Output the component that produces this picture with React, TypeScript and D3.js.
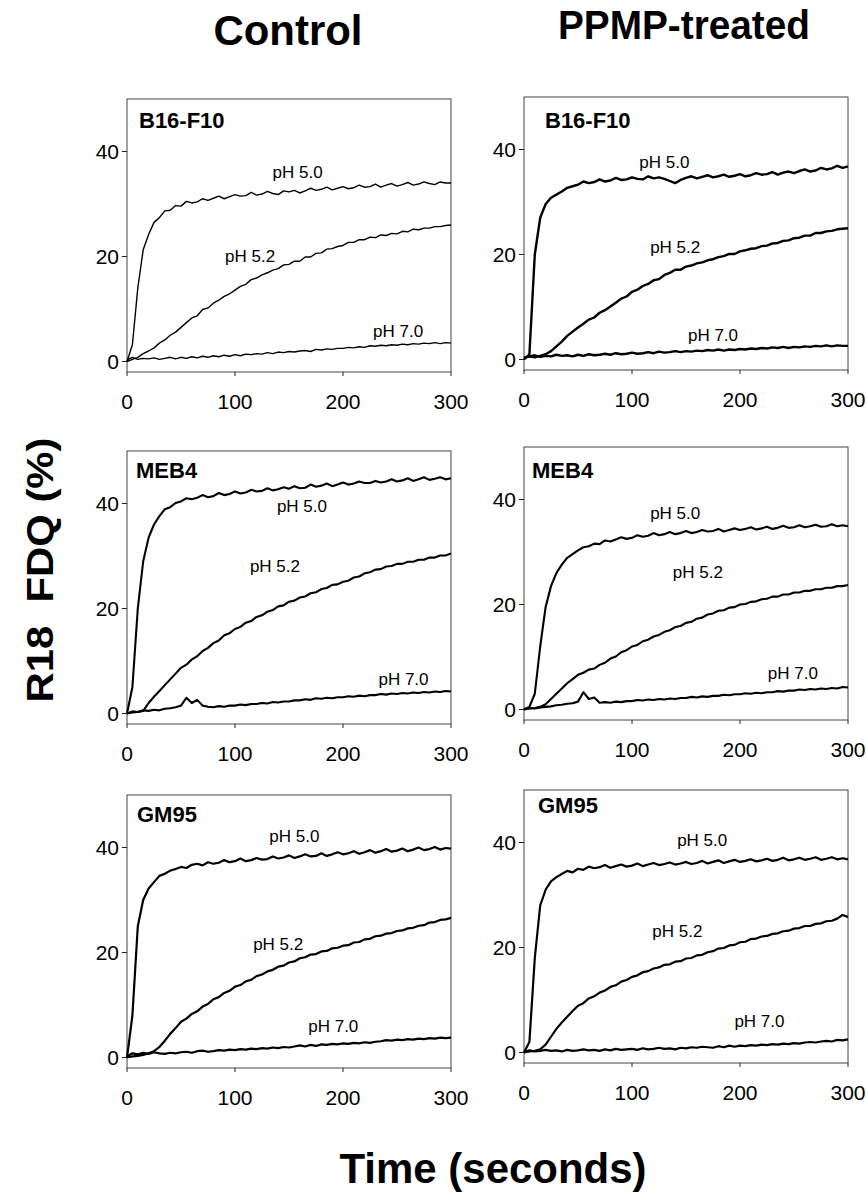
import React from 'react';
import { scaleLinear, line } from 'd3';

// sample times (seconds)
const times = [
  0, 5, 10, 15, 20, 25, 30, 35, 40, 45,
  50, 55, 60, 65, 70, 75, 80, 85, 90, 95,
  100, 105, 110, 115, 120, 125, 130, 135, 140, 145,
  150, 155, 160, 165, 170, 175, 180, 185, 190, 195,
  200, 205, 210, 215, 220, 225, 230, 235, 240, 245,
  250, 255, 260, 265, 270, 275, 280, 285, 290, 295,
  300,
];

const phLabels = ['pH 5.0', 'pH 5.2', 'pH 7.0'];
const cellLines = ['B16-F10', 'MEB4', 'GM95'];
const yTicks = [0, 20, 40];
const xTicks = [0, 100, 200, 300];

// Control, B16-F10
const ctrlB16_50 = [
  0, 3.2, 14.0, 21.3, 24.2, 26.5, 27.4, 28.7, 28.8, 29.7,
  29.6, 30.5, 30.2, 30.4, 31.0, 30.7, 31.1, 31.5, 31.0, 31.4,
  31.8, 31.5, 31.6, 32.2, 31.7, 31.9, 32.4, 32.0, 31.8, 32.5,
  32.3, 32.6, 32.1, 32.5, 33.0, 32.6, 32.8, 33.2, 32.7, 33.0,
  33.3, 32.9, 33.1, 33.6, 33.2, 33.3, 33.8, 33.2, 33.6, 33.9,
  33.4, 33.7, 34.1, 33.6, 33.8, 34.2, 33.9, 33.7, 34.2, 34.0,
  34.0,
];
const ctrlB16_52 = [
  0, 0.4, 0.8, 1.5, 2.0, 2.6, 3.5, 4.1, 5.0, 5.6,
  6.5, 7.4, 8.3, 8.7, 9.9, 10.2, 11.1, 11.7, 12.4, 12.9,
  13.6, 14.3, 14.7, 15.6, 15.9, 16.5, 16.9, 17.4, 17.7, 18.4,
  18.5, 19.1, 19.1, 19.9, 19.9, 20.6, 20.7, 21.4, 21.5, 21.9,
  22.1, 22.7, 22.7, 23.2, 23.2, 23.7, 23.6, 24.1, 24.0, 24.4,
  24.3, 24.8, 24.7, 25.2, 25.1, 25.4, 25.4, 25.7, 25.7, 25.9,
  26.0,
];
const ctrlB16_70 = [
  0.3, 0.8, 0.4, 0.6, 0.5, 0.7, 0.4, 0.6, 0.8, 0.5,
  0.8, 0.6, 0.9, 0.7, 1.0, 0.8, 1.1, 0.9, 1.2, 1.0,
  1.3, 1.1, 1.4, 1.3, 1.5, 1.4, 1.7, 1.5, 1.8, 1.7,
  1.9, 1.8, 2.0, 2.1, 1.9, 2.3, 2.2, 2.4, 2.3, 2.5,
  2.5, 2.7, 2.6, 2.8, 2.7, 3.0, 2.9, 3.1, 3.0, 3.2,
  3.1, 3.3, 3.2, 3.4, 3.3, 3.5, 3.4, 3.6, 3.4, 3.6,
  3.5,
];

// PPMP-treated, B16-F10
const ppmpB16_50 = [
  0, 1.0, 20.0, 27.0, 29.6, 30.8, 31.4, 32.0, 32.7, 33.0,
  33.3, 33.9, 33.6, 33.8, 34.3, 33.9, 34.1, 34.6, 34.2, 34.3,
  34.7, 34.4, 34.3, 34.9, 34.5, 34.7, 34.4, 34.0, 33.6, 34.2,
  34.6, 34.9, 34.5, 34.8, 35.1, 34.7, 34.9, 35.2, 34.8, 35.0,
  35.3, 34.9, 35.1, 35.5, 35.2, 35.3, 35.7, 35.2, 35.6, 35.8,
  35.5, 35.9, 36.2, 35.8, 36.0, 36.5, 36.2, 36.4, 36.9, 36.5,
  36.8,
];
const ppmpB16_52 = [
  0.3, 0.6, 0.4, 0.7, 1.0, 1.6, 2.5, 3.4, 4.5, 5.3,
  6.1, 6.8, 7.6, 8.0, 8.9, 9.4, 10.1, 10.8, 11.6, 12.0,
  12.9, 13.3, 14.0, 14.4, 15.1, 15.3, 16.1, 16.5, 17.1, 17.1,
  17.7, 17.9, 18.3, 18.5, 18.9, 19.1, 19.5, 19.7, 20.1, 20.1,
  20.6, 20.8, 21.1, 21.2, 21.6, 21.7, 22.1, 22.2, 22.6, 22.7,
  23.1, 23.2, 23.6, 23.6, 24.1, 24.1, 24.4, 24.5, 24.8, 24.9,
  25.0,
];
const ppmpB16_70 = [
  0.3, 0.6, 0.8, 0.5, 0.7, 0.6, 0.9, 0.7, 0.8, 0.6,
  0.9, 0.7, 1.0, 0.8, 0.9, 1.1, 0.9, 1.2, 1.0, 1.1,
  1.3, 1.1, 1.2, 1.4, 1.2, 1.5, 1.3, 1.4, 1.6, 1.4,
  1.6, 1.5, 1.7, 1.6, 1.8, 1.7, 1.9, 1.7, 1.9, 1.8,
  2.0, 1.9, 2.1, 2.0, 2.2, 2.1, 2.3, 2.2, 2.4, 2.2,
  2.4, 2.3, 2.5, 2.4, 2.6, 2.5, 2.7, 2.5, 2.7, 2.6,
  2.6,
];

// Control, MEB4
const ctrlMEB4_50 = [
  0, 5.0, 20.0, 29.0, 33.5, 36.0, 37.6, 38.9, 39.3, 40.1,
  40.4, 41.0, 40.8, 41.1, 41.6, 41.2, 41.4, 42.0, 41.6, 41.8,
  42.3, 41.9, 42.1, 42.6, 42.3, 42.4, 42.9, 42.5, 42.7, 43.1,
  42.8, 43.3, 42.9, 43.0, 43.6, 43.2, 43.4, 43.8, 43.3, 43.6,
  44.0, 43.6, 43.8, 44.2, 43.9, 43.9, 44.3, 44.0, 44.2, 44.6,
  44.2, 44.4, 44.8, 44.3, 44.6, 45.0, 44.5, 44.7, 45.0, 44.6,
  44.8,
];
const ctrlMEB4_52 = [
  0, 0.2, 0.3, 0.5, 2.0, 3.2, 4.3, 5.4, 6.5, 7.6,
  8.7, 9.3, 10.3, 10.9, 11.9, 12.5, 13.4, 13.9, 14.9, 15.3,
  16.1, 16.5, 17.3, 17.6, 18.4, 18.7, 19.4, 19.7, 20.4, 20.6,
  21.3, 21.5, 22.1, 22.3, 22.9, 23.1, 23.7, 23.9, 24.5, 24.6,
  25.1, 25.3, 25.9, 26.1, 26.7, 26.9, 27.4, 27.5, 28.0, 28.1,
  28.5, 28.5, 28.9, 28.9, 29.3, 29.3, 29.7, 29.7, 30.1, 30.1,
  30.5,
];
const ctrlMEB4_70 = [
  0, 0.4, 0.3, 0.6, 0.5, 0.7, 0.6, 0.9, 1.0, 1.2,
  1.5, 3.0, 2.0, 2.6, 1.5, 1.3, 1.2, 1.4, 1.3, 1.5,
  1.5, 1.7, 1.6, 1.8, 1.8, 2.0, 1.9, 2.2, 2.1, 2.3,
  2.3, 2.5, 2.5, 2.7, 2.6, 2.9, 2.8, 3.0, 2.9, 3.1,
  3.1, 3.3, 3.2, 3.4, 3.3, 3.5, 3.5, 3.7, 3.6, 3.8,
  3.7, 3.9, 3.8, 4.0, 3.9, 4.1, 4.0, 4.2, 4.1, 4.3,
  4.2,
];

// PPMP-treated, MEB4
const ppmpMEB4_50 = [
  0, 0.5, 3.0, 12.0, 19.5, 23.5, 26.0, 27.6, 28.9, 29.6,
  30.3, 30.9, 31.1, 31.6, 31.5, 32.2, 32.0, 32.4, 32.8, 32.5,
  32.7, 33.2, 32.9, 33.1, 33.6, 33.2, 33.4, 33.8, 33.4, 33.6,
  34.0, 33.6, 33.8, 34.2, 33.9, 34.0, 34.4, 33.9, 34.2, 34.5,
  34.2, 34.4, 34.7, 34.3, 34.5, 34.8, 34.4, 34.6, 35.0, 34.6,
  34.7, 35.1, 34.7, 34.9, 35.2, 34.8, 34.9, 35.3, 34.9, 35.1,
  34.9,
];
const ppmpMEB4_52 = [
  0, 0.2, 0.3, 0.5, 1.0, 2.0, 3.0, 4.0, 5.0, 5.8,
  6.6, 7.0, 7.6, 7.8, 8.5, 8.9, 9.7, 10.1, 10.9, 11.3,
  12.0, 12.3, 13.0, 13.3, 13.9, 14.2, 14.8, 15.1, 15.7, 15.9,
  16.5, 16.7, 17.3, 17.5, 18.1, 18.3, 18.8, 18.9, 19.4, 19.5,
  20.0, 20.1, 20.5, 20.6, 21.0, 21.1, 21.5, 21.5, 21.9, 21.9,
  22.3, 22.3, 22.6, 22.6, 22.9, 22.9, 23.2, 23.2, 23.5, 23.5,
  23.7,
];
const ppmpMEB4_70 = [
  0.1, 0.3, 0.2, 0.4, 0.5, 0.6, 0.8, 0.9, 1.1, 1.2,
  1.5, 3.3, 2.0, 2.3, 1.3, 1.4, 1.3, 1.5, 1.4, 1.6,
  1.6, 1.8, 1.7, 1.9, 1.8, 2.0, 1.9, 2.1, 2.0, 2.2,
  2.2, 2.4, 2.3, 2.5, 2.4, 2.6, 2.6, 2.8, 2.7, 2.9,
  2.9, 3.1, 3.0, 3.2, 3.1, 3.3, 3.3, 3.5, 3.4, 3.6,
  3.6, 3.8, 3.7, 3.9, 3.8, 4.0, 3.9, 4.1, 4.0, 4.3,
  4.2,
];

// Control, GM95
const ctrlGM95_50 = [
  0, 8.0, 25.0, 30.0, 32.2, 33.4, 34.6, 35.0, 35.6, 35.9,
  36.3, 36.1, 36.7, 36.9, 36.6, 37.2, 36.9, 37.1, 37.6, 37.2,
  37.4, 37.9, 37.4, 37.6, 38.0, 37.7, 37.8, 38.3, 37.9, 38.1,
  38.5, 38.0, 38.3, 38.7, 38.3, 38.4, 38.9, 38.4, 38.7, 39.1,
  38.7, 38.9, 39.3, 38.8, 39.1, 39.5, 39.0, 39.3, 39.7, 39.2,
  39.4, 39.8, 39.3, 39.6, 40.0, 39.5, 39.7, 40.1, 39.6, 39.9,
  39.8,
];
const ctrlGM95_52 = [
  0, 0.2, 0.3, 0.5, 0.8, 1.2, 2.0, 3.2, 4.5, 5.6,
  6.8, 7.4, 8.3, 8.8, 9.7, 10.2, 11.1, 11.5, 12.3, 12.7,
  13.5, 13.8, 14.5, 14.8, 15.5, 15.8, 16.4, 16.7, 17.3, 17.5,
  18.1, 18.3, 18.9, 19.1, 19.6, 19.7, 20.2, 20.3, 20.8, 20.9,
  21.3, 21.4, 21.9, 22.0, 22.5, 22.6, 23.1, 23.2, 23.6, 23.7,
  24.1, 24.2, 24.6, 24.7, 25.1, 25.2, 25.7, 25.8, 26.2, 26.3,
  26.6,
];
const ctrlGM95_70 = [
  0.2, 0.8, 0.6, 0.9, 0.7, 1.0, 0.8, 0.7, 0.9, 0.8,
  1.0, 1.1, 0.9, 1.2, 1.3, 1.1, 1.2, 1.4, 1.3, 1.5,
  1.4, 1.6, 1.5, 1.7, 1.6, 1.8, 1.7, 1.9, 1.8, 2.0,
  1.9, 2.1, 2.3, 2.1, 2.4, 2.2, 2.5, 2.4, 2.6, 2.5,
  2.7, 2.6, 2.8, 2.7, 2.9, 2.8, 3.0, 3.1, 3.3, 3.2,
  3.4, 3.3, 3.5, 3.4, 3.6, 3.5, 3.7, 3.6, 3.8, 3.7,
  3.8,
];

// PPMP-treated, GM95
const ppmpGM95_50 = [
  0, 2.0, 18.0, 28.0, 31.0, 32.6, 33.4, 34.0, 34.6, 34.3,
  35.0, 34.8, 35.4, 35.1, 35.3, 35.7, 35.2, 35.5, 35.8, 35.4,
  35.6, 36.0, 35.5, 35.8, 36.1, 35.7, 35.9, 36.2, 35.8, 36.0,
  36.3, 35.9, 36.1, 36.5, 36.0, 36.3, 36.6, 36.1, 36.4, 36.7,
  36.3, 36.5, 36.8, 36.4, 36.6, 36.9, 36.5, 36.7, 37.1, 36.6,
  36.8, 37.1, 36.7, 36.9, 37.2, 36.7, 36.9, 37.2, 36.8, 37.0,
  36.8,
];
const ppmpGM95_52 = [
  0, 0.2, 0.3, 0.6, 1.5, 3.0, 4.5, 5.7, 6.8, 7.9,
  8.9, 9.4, 10.3, 10.7, 11.4, 11.8, 12.5, 12.8, 13.5, 13.8,
  14.4, 14.7, 15.3, 15.5, 16.0, 16.2, 16.7, 16.8, 17.3, 17.4,
  17.9, 18.0, 18.5, 18.6, 19.1, 19.3, 19.8, 19.9, 20.4, 20.5,
  21.0, 21.1, 21.6, 21.7, 22.1, 22.2, 22.6, 22.7, 23.1, 23.2,
  23.6, 23.7, 24.1, 24.1, 24.5, 24.6, 25.0, 25.1, 25.5, 26.2,
  25.8,
];
const ppmpGM95_70 = [
  0.1, 0.4, 0.2, 0.3, 0.5, 0.3, 0.4, 0.2, 0.5, 0.3,
  0.4, 0.6, 0.4, 0.5, 0.3, 0.6, 0.4, 0.7, 0.5, 0.6,
  0.7, 0.5, 0.8, 0.6, 0.7, 0.9, 0.7, 0.8, 0.6, 0.9,
  0.8, 1.0, 0.9, 1.1, 1.0, 0.9, 1.2, 1.0, 1.3, 1.1,
  1.3, 1.2, 1.4, 1.3, 1.5, 1.4, 1.6, 1.5, 1.7, 1.6,
  1.8, 1.7, 1.9, 2.0, 1.9, 2.1, 2.2, 2.1, 2.4, 2.3,
  2.5,
];

const W = 866;
const H = 1194;
const PW = 324;
const PH = 273;
const font = "'Liberation Sans', Arial, Helvetica, sans-serif";

// layout of the six panels; label anchors are [t, value] for pH 5.0, 5.2, 7.0
const panels = [
  { name: cellLines[0], left: 127, top: 99, nx: 12, ny: 29, sw: 1.4,
    series: [ctrlB16_50, ctrlB16_52, ctrlB16_70],
    anchors: [[158, 34.9], [114, 18.9], [251, 4.6]] },
  { name: cellLines[0], left: 524, top: 97, nx: 21, ny: 31, sw: 2.4,
    series: [ppmpB16_50, ppmpB16_52, ppmpB16_70],
    anchors: [[130, 36.4], [140, 20.3], [175, 3.6]] },
  { name: cellLines[1], left: 127, top: 451, nx: 9, ny: 27, sw: 2.1,
    series: [ctrlMEB4_50, ctrlMEB4_52, ctrlMEB4_70],
    anchors: [[162, 38.3], [137, 26.9], [256, 5.5]] },
  { name: cellLines[1], left: 524, top: 447, nx: 8, ny: 31, sw: 2.1,
    series: [ppmpMEB4_50, ppmpMEB4_52, ppmpMEB4_70],
    anchors: [[140, 36.2], [161, 25.1], [249, 5.9]] },
  { name: cellLines[2], left: 127, top: 795, nx: 10, ny: 27, sw: 2.2,
    series: [ctrlGM95_50, ctrlGM95_52, ctrlGM95_70],
    anchors: [[155, 41.0], [140, 20.4], [191, 4.8]] },
  { name: cellLines[2], left: 524, top: 790, nx: 14, ny: 23, sw: 2.2,
    series: [ppmpGM95_50, ppmpGM95_52, ppmpGM95_70],
    anchors: [[165, 39.3], [142, 22.0], [218, 4.8]] },
];

function Panel({ p }) {
  const x = scaleLinear().domain([0, 300]).range([0, PW]);
  const y = scaleLinear().domain([-2, 50]).range([PH, 0]);
  const path = line()
    .x((d) => x(d[0]))
    .y((d) => y(d[1]));
  return (
    <g transform={`translate(${p.left},${p.top})`}>
      <rect x={0} y={0} width={PW} height={PH} fill="none" stroke="#444" strokeWidth={1} />
      {yTicks.map((t) => (
        <g key={'y' + t} transform={`translate(0,${y(t)})`}>
          <line x1={-5} x2={0} stroke="#222" />
          <text x={-8} dy="0.36em" textAnchor="end" fontSize={21} fontFamily={font}>
            {t}
          </text>
        </g>
      ))}
      {xTicks.map((t) => (
        <g key={'x' + t} transform={`translate(${x(t)},${PH})`}>
          <line y1={0} y2={4} stroke="#222" />
          <text y={37} textAnchor="middle" fontSize={21} fontFamily={font}>
            {t}
          </text>
        </g>
      ))}
      <text x={p.nx} y={p.ny} fontSize={22} fontWeight="bold" fontFamily={font}>
        {p.name}
      </text>
      {p.series.map((vals, i) => (
        <path
          key={'s' + i}
          d={path(vals.map((v, j) => [times[j], v]))}
          fill="none"
          stroke="#000"
          strokeWidth={p.sw}
          strokeLinejoin="round"
        />
      ))}
      {p.anchors.map((a, i) => (
        <text
          key={'l' + i}
          x={x(a[0])}
          y={y(a[1])}
          textAnchor="middle"
          fontSize={17}
          fontFamily={font}
        >
          {phLabels[i]}
        </text>
      ))}
    </g>
  );
}

export default function App() {
  return (
    <svg
      width={W}
      height={H}
      style={{ position: 'absolute', left: 0, top: 0, background: '#fff' }}
    >
      <text x={288} y={45} textAnchor="middle" fontSize={43} fontWeight="bold"
        fontFamily={font} textLength={149} lengthAdjust="spacingAndGlyphs">
        Control
      </text>
      <text x={684} y={39} textAnchor="middle" fontSize={41} fontWeight="bold"
        fontFamily={font} textLength={252} lengthAdjust="spacingAndGlyphs">
        PPMP-treated
      </text>
      <text transform="translate(53,570) rotate(-90)" textAnchor="middle" fontSize={37}
        fontWeight="bold" fontFamily={font} xmlSpace="preserve"
        textLength={265} lengthAdjust="spacingAndGlyphs">
        R18  FDQ (%)
      </text>
      <text x={493} y={1183} textAnchor="middle" fontSize={42} fontWeight="bold"
        fontFamily={font} textLength={307} lengthAdjust="spacingAndGlyphs">
        Time (seconds)
      </text>
      {panels.map((p, i) => (
        <Panel key={i} p={p} />
      ))}
    </svg>
  );
}
